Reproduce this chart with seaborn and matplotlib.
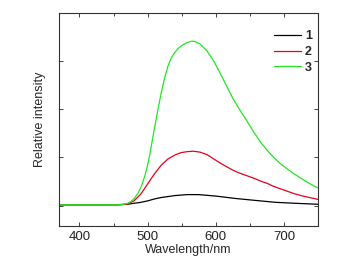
import numpy as np
import pandas as pd
import seaborn as sns
import matplotlib
matplotlib.use("Agg")
import matplotlib.pyplot as plt
from matplotlib.ticker import MultipleLocator

# Values (relative intensity, arbitrary units)
wl_1 = [370, 455, 470, 480, 490, 500, 510, 520, 530, 540, 558, 575, 600, 629, 658, 688, 717, 750]
int_1 = [0.02, 0.02, 0.03, 0.05, 0.07, 0.10, 0.14, 0.17, 0.19, 0.21, 0.23, 0.23, 0.20, 0.15, 0.11, 0.07, 0.05, 0.03]

wl_2 = [370, 455, 470, 480, 490, 500, 510, 520, 530, 540, 549, 558, 567, 577, 587, 597, 607, 617,
        626, 636, 646, 656, 666, 676, 685, 695, 705, 715, 725, 734, 744, 750]
int_2 = [0.02, 0.02, 0.03, 0.10, 0.24, 0.45, 0.66, 0.84, 0.97, 1.05, 1.10, 1.12, 1.13, 1.11, 1.06, 0.97, 0.88, 0.80,
         0.73, 0.67, 0.62, 0.57, 0.51, 0.46, 0.40, 0.35, 0.30, 0.25, 0.21, 0.18, 0.15, 0.13]

wl_3 = [370, 450, 461, 471, 476, 481, 486, 491, 496, 501, 505.5, 510, 515, 520, 525, 530, 535, 540, 545,
        550, 555, 560, 565, 570, 577, 587, 597, 607, 617, 626, 636, 646, 656, 666, 676, 685, 695,
        705, 715, 725, 734, 744, 750]
int_3 = [0.02, 0.02, 0.02, 0.05, 0.09, 0.16, 0.26, 0.41, 0.62, 0.90, 1.24, 1.60, 1.98, 2.34, 2.65, 2.90, 3.07, 3.18, 3.26,
         3.32, 3.36, 3.39, 3.41, 3.40, 3.35, 3.21, 3.00, 2.73, 2.45, 2.20, 1.97, 1.75, 1.52, 1.31, 1.14, 1.00, 0.87,
         0.76, 0.66, 0.57, 0.49, 0.41, 0.37]

labels = ["1", "2", "3"]
colors = ["#000000", "#e8001c", "#22e622"]

df = pd.concat([
    pd.DataFrame({"Wavelength": wl_1, "Intensity": int_1, "Sample": labels[0]}),
    pd.DataFrame({"Wavelength": wl_2, "Intensity": int_2, "Sample": labels[1]}),
    pd.DataFrame({"Wavelength": wl_3, "Intensity": int_3, "Sample": labels[2]}),
])

sns.set_style("ticks")
plt.rcParams["font.family"] = ["Liberation Sans", "DejaVu Sans"]

fig = plt.figure(figsize=(3.5, 2.77), dpi=100)
ax = fig.add_axes([59 / 350, 1 - 225.5 / 277, (318 - 59) / 350, (225.5 - 12.7) / 277])

sns.lineplot(data=df, x="Wavelength", y="Intensity", hue="Sample",
             palette=colors, linewidth=0.9, ax=ax, estimator=None, sort=False)

ax.set_xlim(370, 750)
ax.set_ylim(-0.41, 4.0)
ax.xaxis.set_major_locator(MultipleLocator(100))
ax.xaxis.set_minor_locator(MultipleLocator(50))
ax.yaxis.set_major_locator(MultipleLocator(1))
ax.set_yticklabels([])
ax.tick_params(direction="in", top=True, right=True, length=3, width=0.6,
               labelsize=9.5, colors="#222222", pad=4)
ax.tick_params(which="minor", direction="in", top=True, right=True, length=2, width=0.6)
for s in ax.spines.values():
    s.set_linewidth(0.8)
    s.set_color("#333333")

ax.set_xlabel("Wavelength/nm", fontsize=9, labelpad=1)
ax.set_ylabel("Relative intensity", fontsize=9, labelpad=5)

leg = ax.legend(loc="upper right", frameon=False, handlelength=2.2,
                bbox_to_anchor=(1.02, 0.97), labelspacing=0.3,
                handletextpad=0.3, prop={"weight": "bold", "size": 9})

fig.savefig("out.png", dpi=100)
